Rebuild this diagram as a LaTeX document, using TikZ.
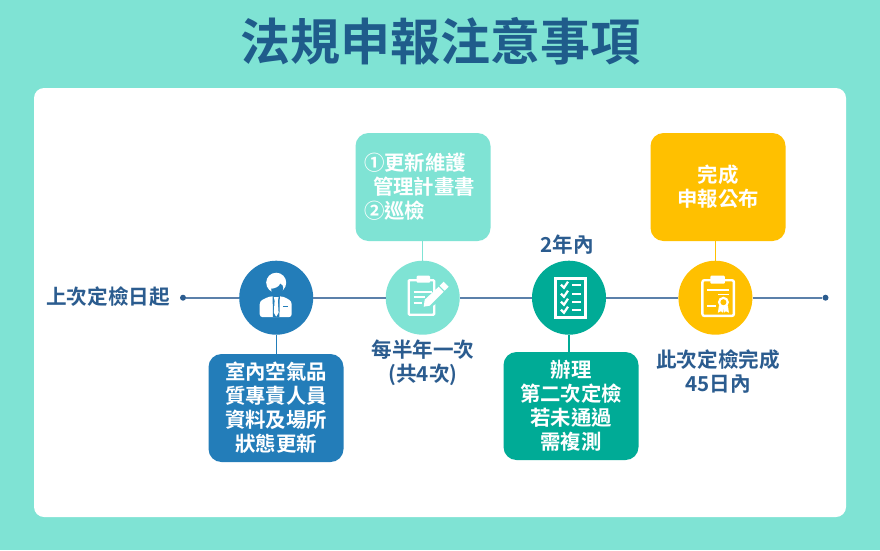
\documentclass[tikz,border=0pt]{standalone}
\usepackage{fontspec}
\setmainfont{Noto Sans CJK TC Bold}
\usetikzlibrary{positioning}
\definecolor{bgteal}{HTML}{7FE3D4}
\definecolor{stepblue}{HTML}{237DB9}
\definecolor{stepgreen}{HTML}{00AB96}
\definecolor{stepyellow}{HTML}{FFC000}
\definecolor{titleblue}{HTML}{1F5C8B}
\definecolor{labelblue}{HTML}{2B5C8F}
\definecolor{axisblue}{HTML}{5B80AA}
\tikzset{
	stage/.style = {circle, minimum size=74pt, inner sep=0pt, fill=#1},
	notebox/.style = {rectangle, rounded corners=13pt, minimum width=135pt, minimum height=108pt, inner sep=0pt, fill=#1, text=white, font=\fontsize{20.4}{24}\selectfont, align=center},
	axislabel/.style = {text=labelblue, font=\fontsize{20.6}{24}\selectfont, align=center, inner sep=0pt},
	axisdot/.style = {circle, minimum size=6pt, inner sep=0pt, fill=labelblue},
	axisline/.style = {axisblue, line width=1.6pt},
	stem/.style = {line width=1.4pt, #1},
	iconline/.style = {white, line width=2.4pt}
}
\begin{document}
\begin{tikzpicture}[x=1pt, y=-1pt]
	\fill [bgteal] (0,0) rectangle (880,550);
	\fill [white, rounded corners=10pt] (34,88) rectangle (846,517);
	\node (title) [text=titleblue, font=\fontsize{50}{52}\selectfont, inner sep=0pt] at (440,41) {法規申報注意事項};

	\node (startlabel) [axislabel] at (108,297) {上次定檢日起};
	\node (startdot) [axisdot] at (183,297.7) {};
	\node (enddot) [axisdot] at (825.5,297.7) {};
	\node (person) [stage=stepblue] at (276.2,297.7) {};
	\node (plan) [stage=bgteal] at (422.7,297.7) {};
	\node (check) [stage=stepgreen] at (569,297.7) {};
	\node (report) [stage=stepyellow] at (715.4,297.7) {};

	\node (datanote) [notebox=stepblue] at (276,408) {室內空氣品\\質專責人員\\資料及場所\\狀態更新};
	\node (plannote) [notebox=bgteal, align=left, text width=118pt] at (423,187) {①更新維護\\\hspace{9pt}管理計畫書\\②巡檢};
	\node (retestnote) [notebox=stepgreen] at (571,406) {辦理\\第二次定檢\\若未通過\\需複測};
	\node (reportnote) [notebox=stepyellow] at (718,187) {完成\\申報公布};

	\node (planlabel) [axislabel] at (423,363) {每半年一次\\(共4次)};
	\node (checklabel) [axislabel] at (567,245) {2年內};
	\node (reportlabel) [axislabel] at (718,372) {此次定檢完成\\45日內};

	\draw [axisline] (startdot) -- (person);
	\draw [axisline] (person) -- (plan);
	\draw [axisline] (plan) -- (check);
	\draw [axisline] (check) -- (report);
	\draw [axisline] (report) -- (enddot);
	\draw [stem=stepblue] (person.south) -- (datanote.north -| person.south);
	\draw [stem=bgteal] (plan.north) -- (plannote.south -| plan.north);
	\draw [stem=stepgreen] (check.south) -- (retestnote.north -| check.south);
	\draw [stem=stepyellow] (report.north) -- (reportnote.south -| report.north);

	% person icon
	\begin{scope}[shift={(person.center)}]
		\fill [white, rounded corners=3pt] (-16.5,19.5) -- (-16.5,3.5) -- (-7,-1.3) -- (7,-1.3) -- (15.5,3.5) -- (15.5,19.5) -- cycle;
		\fill [white] (0,-15) circle (10);
		\fill [stepblue] (-5,-9) .. controls (-1,-9) and (3,-11) .. (4,-14) .. controls (6,-13) and (7,-12) .. (7,-10) .. controls (7,-5) and (3,-2.5) .. (0,-2.5) .. controls (-3,-2.5) and (-5,-5) .. cycle;
		\fill [stepblue] (-3.6,-1.5) -- (3.6,-1.5) -- (3.2,19.5) -- (-3.2,19.5) -- cycle;
		\fill [white] (-2.4,-.5) -- (2.4,-.5) -- (1.6,3) -- (2.4,15) -- (0,19) -- (-2.4,15) -- (-1.6,3) -- cycle;
		\draw [stepblue, line width=.8pt] (7,9) -- (12,9);
	\end{scope}

	% clipboard and pencil
	\begin{scope}[shift={(plan.center)}]
		\draw [iconline, rounded corners=1pt] (-14,-17.5) rectangle (11.5,17);
		\fill [white, rounded corners=1pt] (-6,-22) rectangle (7.5,-15);
		\foreach \ya/\xb in {-6/9, -0.7/2, 5/-1}
			\draw [white, line width=1.6pt] (-9,\ya) -- (\xb,\ya);
		\fill [bgteal] (-.5,7) -- (18,-12) -- (28,-12) -- (28,-5) -- (5,12) -- cycle;
		\fill [white] (2,2) -- (16,-11) -- (21,-6) -- (7,8) -- (1,9) -- cycle;
		\fill [white] (17,-12) -- (21,-16) -- (26,-11) -- (22,-7) -- cycle;
	\end{scope}

	% checklist
	\begin{scope}[shift={(check.center)}]
		\draw [white, line width=3pt] (-13.5,-19.5) rectangle (16.5,19.5);
		\foreach \ya in {-13,-4,4,12} {
			\draw [white, line width=2.2pt] (-8,\ya) -- (-5,\ya+3) -- (-1,\ya-3);
			\draw [white, line width=1.6pt] (3,\ya) -- (12,\ya);
		}
	\end{scope}

	% clipboard with seal
	\begin{scope}[shift={(report.center)}]
		\draw [iconline, rounded corners=2pt] (-13,-17.5) rectangle (18.5,18.2);
		\fill [white, rounded corners=1pt] (-5,-22) rectangle (9.5,-14);
		\draw [white, line width=1.6pt] (-8,-8) -- (14,-8);
		\draw [white, line width=1.6pt] (3,-3.3) -- (14,-3.3);
		\draw [white, line width=1.6pt] (-8,8.3) -- (.7,8.3);
		\fill [white] (3.5,8) -- (2.5,15) -- (5.5,13.5) -- (7.5,15) -- (8,10) -- (8.5,15) -- (10.5,13.5) -- (13.5,15) -- (12.5,8) -- cycle;
		\fill [white] (8,4.5) circle (5.5);
		\fill [stepyellow] (8,4.5) circle (3);
	\end{scope}
\end{tikzpicture}
\end{document}
